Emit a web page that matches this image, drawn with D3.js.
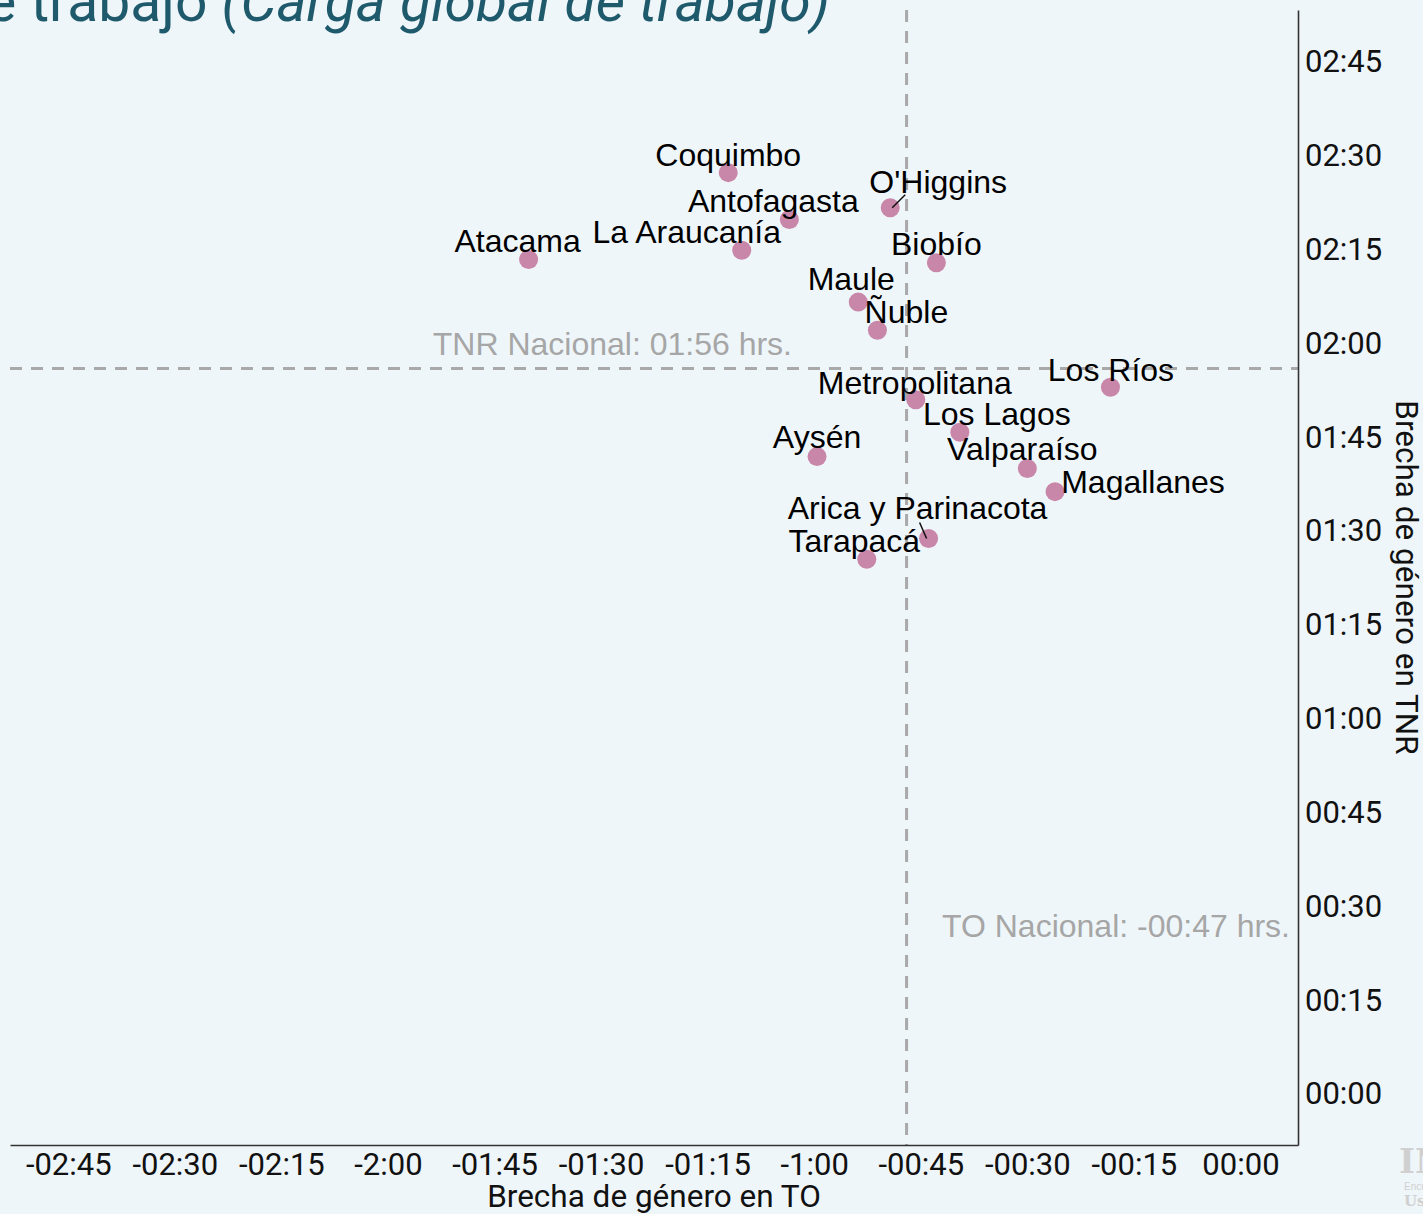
<!DOCTYPE html>
<html>
<head>
<meta charset="utf-8">
<script src="https://cdn.jsdelivr.net/npm/d3@7"></script>
<style>
  html, body { margin: 0; padding: 0; background: #eff6fa; overflow: hidden; }
  svg { display: block; }
</style>
</head>
<body>
<svg id="chart" width="1423" height="1214"></svg>
<script>
// ---- Data (minutes) ----
const regions = ["Coquimbo","Antofagasta","O'Higgins","Atacama","La Araucanía","Biobío","Maule","Ñuble",
  "Los Ríos","Metropolitana","Los Lagos","Aysén","Valparaíso","Magallanes","Arica y Parinacota","Tarapacá"];
const gapTO  = [-72.1,-63.5,-49.3,-100.2,-70.2,-42.8,-53.8,-51.1,-18.3,-45.7,-39.5,-59.6,-30.0,-26.1,-43.9,-52.6];
const gapTNR = [147.3,139.8,141.7,133.4,134.9,132.9,126.6,122.1,113.0,111.0,105.8,101.9,100.0,96.3,88.8,85.5];
const nationalTO = -47;
const nationalTNR = 116;
const xTickValues = [-165,-150,-135,-120,-105,-90,-75,-60,-45,-30,-15,0];
const xTickLabels = ["-02:45","-02:30","-02:15","-2:00","-01:45","-01:30","-01:15","-1:00","-00:45","-00:30","-00:15","00:00"];
const yTickValues = [0,15,30,45,60,75,90,105,120,135,150,165];
const yTickLabels = ["00:00","00:15","00:30","00:45","01:00","01:15","01:30","01:45","02:00","02:15","02:30","02:45"];

// ---- Label layout (pixel nudges from each point: dx, dy to baseline centre; optional connector) ----
const labelNudge = {
  "Coquimbo": [0,-7], "Antofagasta": [-16,-8], "O'Higgins": [48,-15, 15,-13],
  "Atacama": [-11,-7.5], "La Araucanía": [-55,-7], "Biobío": [0,-7.7], "Maule": [-7,-11.7],
  "Ñuble": [29,-7.3], "Los Ríos": [0.5,-6.6], "Metropolitana": [-1,-6], "Los Lagos": [37,-7],
  "Aysén": [0,-8.4], "Valparaíso": [-5,-8.3], "Magallanes": [88,1.6],
  "Arica y Parinacota": [-11,-20, -9,-16], "Tarapacá": [-12.5,-7.6]
};

const data = regions.map((r,i)=>({region:r, to:gapTO[i], tnr:gapTNR[i]}));

const svg = d3.select("#chart");
const W = 1423, H = 1214;
svg.append("rect").attr("width",W).attr("height",H).attr("fill","#eff6fa");

const pLeft = 10, pRight = 1298, pTop = 10, pBottom = 1145;
const x = d3.scaleLinear().domain([-173.2, 8.1]).range([pLeft, pRight]);
const y = d3.scaleLinear().domain([-8.15, 173.3]).range([pBottom, pTop]);

// Title (clipped at the top-left like the reference)
const title = svg.append("text")
  .attr("x", 830).attr("y", 21)
  .attr("text-anchor","end")
  .attr("font-family","Roboto, sans-serif")
  .attr("font-size", 57)
  .attr("fill","#1f5a6c");
title.append("tspan").text("Brecha de género en tiempo de trabajo ");
title.append("tspan").attr("font-style","italic").text("(Carga global de trabajo)");

// Reference lines
svg.append("line")
  .attr("x1", x(nationalTO)).attr("x2", x(nationalTO))
  .attr("y1", pTop).attr("y2", pBottom)
  .attr("stroke","#a9a9a9").attr("stroke-width",3).attr("stroke-dasharray","12,9");
svg.append("line")
  .attr("x1", pLeft).attr("x2", pRight)
  .attr("y1", y(nationalTNR)).attr("y2", y(nationalTNR))
  .attr("stroke","#a9a9a9").attr("stroke-width",3).attr("stroke-dasharray","12,9");

svg.append("text")
  .attr("x", 792).attr("y", y(nationalTNR) - 13)
  .attr("text-anchor","end")
  .attr("font-family","'Liberation Sans', Arial, sans-serif")
  .attr("font-size", 32).attr("fill","#a6a6a6")
  .text("TNR Nacional: 01:56 hrs.");
svg.append("text")
  .attr("x", 1290).attr("y", 937)
  .attr("text-anchor","end")
  .attr("font-family","'Liberation Sans', Arial, sans-serif")
  .attr("font-size", 32).attr("fill","#a6a6a6")
  .text("TO Nacional: -00:47 hrs.");

// Axes
const xAxis = d3.axisBottom(x).tickValues(xTickValues)
  .tickFormat((d,i)=>xTickLabels[i]).tickSize(0).tickPadding(8);
const gx = svg.append("g").attr("transform",`translate(0,${pBottom})`).call(xAxis);
gx.select(".domain").attr("stroke","#333").attr("stroke-width",1.6);
gx.selectAll("text").attr("font-family","Roboto, sans-serif").attr("font-size",31)
  .attr("fill","#111").attr("dy","0.71em");

const yAxis = d3.axisRight(y).tickValues(yTickValues)
  .tickFormat((d,i)=>yTickLabels[i]).tickSize(0).tickPadding(7);
const gy = svg.append("g").attr("transform",`translate(${pRight},0)`).call(yAxis);
gy.select(".domain").attr("stroke","#333").attr("stroke-width",1.6);
gy.selectAll("text").attr("font-family","Roboto, sans-serif").attr("font-size",31)
  .attr("fill","#111");

// Axis titles
svg.append("text")
  .attr("x", (pLeft+pRight)/2).attr("y", 1207)
  .attr("text-anchor","middle")
  .attr("font-family","Roboto, sans-serif").attr("font-size",31.5).attr("fill","#111")
  .text("Brecha de género en TO");
svg.append("text")
  .attr("transform",`translate(1396,${(pTop+pBottom)/2}) rotate(90)`)
  .attr("text-anchor","middle")
  .attr("font-family","Roboto, sans-serif").attr("font-size",31.5).attr("fill","#111")
  .text("Brecha de género en TNR");

// Points
svg.append("g").selectAll("circle").data(data).join("circle")
  .attr("cx", d=>x(d.to)).attr("cy", d=>y(d.tnr)).attr("r", 9.5)
  .attr("fill","#c886a9");

// Connectors
data.forEach(d=>{
  const n = labelNudge[d.region];
  if (n.length > 2) {
    svg.append("line")
      .attr("x1", x(d.to)+2*Math.sign(n[2])).attr("y1", y(d.tnr))
      .attr("x2", x(d.to)+n[2]).attr("y2", y(d.tnr)+n[3])
      .attr("stroke","#111").attr("stroke-width",1.5);
  }
});

// Labels
svg.append("g").selectAll("text").data(data).join("text")
  .attr("x", d=>x(d.to)+labelNudge[d.region][0])
  .attr("y", d=>y(d.tnr)+labelNudge[d.region][1])
  .attr("text-anchor","middle")
  .attr("font-family","'Liberation Sans', Arial, sans-serif")
  .attr("font-size",32).attr("fill","#000")
  .text(d=>d.region);

// Logo (partially visible at bottom right)
svg.append("text").attr("x",1399).attr("y",1173)
  .attr("font-family","'DejaVu Serif', serif").attr("font-weight","bold")
  .attr("font-size",34).attr("fill","#d0d0d0").text("INE");
svg.append("text").attr("x",1404).attr("y",1190)
  .attr("font-family","'Liberation Sans', sans-serif")
  .attr("font-size",10).attr("fill","#d0d0d0").text("Encuesta");
svg.append("text").attr("x",1404).attr("y",1206)
  .attr("font-family","'DejaVu Serif', serif").attr("font-weight","bold")
  .attr("font-size",15).attr("fill","#d0d0d0").text("Uso");
</script>
</body>
</html>
